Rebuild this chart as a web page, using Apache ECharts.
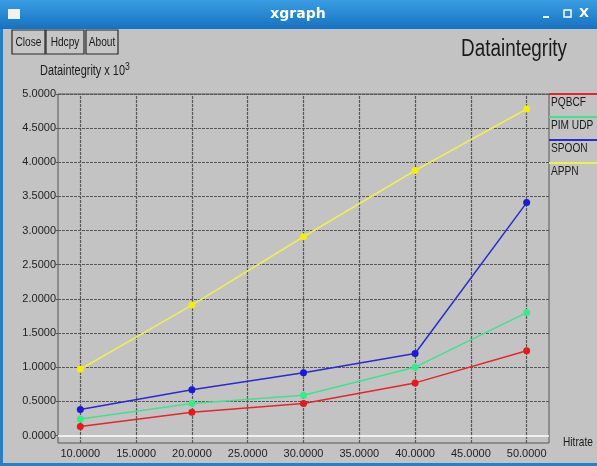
<!DOCTYPE html>
<html>
<head>
<meta charset="utf-8">
<script src="https://cdn.jsdelivr.net/npm/echarts@6/dist/echarts.min.js"></script>
<style>
html,body{margin:0;padding:0;background:#c3c3c3;}
#c{width:597px;height:466px;}
</style>
</head>
<body>
<div id="c"></div>
<script>
// ---- data ----
const hitrate = [10, 20, 30, 40, 50];
const seriesNames = ['PQBCF', 'PIM UDP', 'SPOON', 'APPN'];
const pqbcf  = [0.13, 0.34, 0.47, 0.77, 1.24];
const pimudp = [0.24, 0.47, 0.59, 1.00, 1.80];
const spoon  = [0.38, 0.67, 0.92, 1.20, 3.41];
const appn   = [0.97, 1.91, 2.91, 3.88, 4.78];
const xTicks = [10, 15, 20, 25, 30, 35, 40, 45, 50];
const yTicks = [0, 0.5, 1, 1.5, 2, 2.5, 3, 3.5, 4, 4.5, 5];
const buttonLabels = ['Close', 'Hdcpy', 'About'];

const colors = ['#e4262c', '#3fe38f', '#2a2ad0', '#eeee55'];
const markerColors = ['#e41a1a', '#33ee88', '#1a1ad8', '#f4f000'];
const values = [pqbcf, pimudp, spoon, appn];
const FONT = "'Liberation Sans', Arial, sans-serif";
const SX = 0.78;

const chart = echarts.init(document.getElementById('c'), null, {renderer: 'canvas'});

const gridStyle = {color: '#575757', width: 1.2, type: [3, 1]};
const gridLines = [];
xTicks.forEach(v => gridLines.push({xAxis: v, lineStyle: gridStyle}));
yTicks.forEach(v => {
  if (v === 0) gridLines.push({yAxis: v, lineStyle: {color: '#ffffff', width: 1.5, type: 'solid'}});
  else gridLines.push({yAxis: v, lineStyle: gridStyle});
});

const series = [{
  type: 'line', name: 'grid', data: [], z: 1, silent: true,
  markLine: {z: 1, silent: true, symbol: ['none', 'none'], label: {show: false}, animation: false, data: gridLines}
}];
seriesNames.forEach((n, i) => {
  series.push({
    type: 'line', name: n, z: 3,
    data: hitrate.map((x, j) => [x, values[i][j]]),
    symbol: 'circle', symbolSize: 7, showSymbol: true,
    itemStyle: {color: markerColors[i], borderWidth: 0},
    lineStyle: {color: colors[i], width: 1.5},
    animation: false
  });
});

function txt(x, y, text, size, opts) {
  opts = opts || {};
  return {type: 'text', x: x, y: y, scaleX: opts.sx || SX, z: 12,
    style: Object.assign({text: text, fill: '#1a1a1a', font: size + 'px ' + FONT,
      align: opts.align || 'left', verticalAlign: 'middle'}, opts.style || {})};
}

const graphic = [
  {type: 'rect', shape: {x: 0, y: 0, width: 597, height: 29},
   style: {fill: new echarts.graphic.LinearGradient(0, 0, 0, 1, [{offset: 0, color: '#3a9de2'}, {offset: 1, color: '#1572c0'}])}, z: 10},
  {type: 'rect', shape: {x: 8, y: 9, width: 12, height: 10}, style: {fill: '#f2f2f2'}, z: 11},
  {type: 'text', x: 298, y: 14, z: 11, style: {text: 'xgraph', fill: '#ffffff', font: "bold 14px 'DejaVu Sans', sans-serif", align: 'center', verticalAlign: 'middle'}},
  {type: 'rect', shape: {x: 543, y: 16, width: 6, height: 2}, style: {fill: '#ffffff'}, z: 11},
  {type: 'rect', shape: {x: 564, y: 10, width: 7, height: 7}, style: {fill: 'none', stroke: '#ffffff', lineWidth: 1.5}, z: 11},
  {type: 'text', x: 584, y: 14, z: 11, style: {text: 'X', fill: '#ffffff', font: "bold 13px 'DejaVu Sans', sans-serif", align: 'center', verticalAlign: 'middle'}},
  {type: 'rect', shape: {x: 0, y: 29, width: 3, height: 437}, style: {fill: '#2a7fc4'}, z: 10},
  {type: 'rect', shape: {x: 0, y: 463, width: 597, height: 3}, style: {fill: '#2a7fc4'}, z: 10},
  {type: 'text', x: 567, y: 50, scaleX: 0.82, z: 12,
   style: {text: 'Dataintegrity', fill: '#1a1a1a', font: "23px " + FONT, align: 'right', verticalAlign: 'middle'}},
  {type: 'text', x: 40, y: 71, scaleX: SX, z: 12,
   style: {text: 'Dataintegrity x 10{s|3}', fill: '#1a1a1a', font: "14px " + FONT, verticalAlign: 'middle',
    rich: {s: {fontSize: 11, fontFamily: FONT, fill: '#1a1a1a', verticalAlign: 'top', padding: [0, 0, 8, 0]}}}},
  txt(563, 442, 'Hitrate', 13)
];
const btnX = [12, 46, 86];
const btnW = [33, 38, 32];
buttonLabels.forEach((b, i) => {
  graphic.push({type: 'rect', shape: {x: btnX[i], y: 30, width: btnW[i], height: 24},
    style: {fill: '#c6c6c6', stroke: '#2a2a2a', lineWidth: 1.2}, z: 11});
  graphic.push(txt(btnX[i] + btnW[i] / 2, 42, b, 13, {align: 'center'}));
});
seriesNames.forEach((n, i) => {
  const y = 94 + i * 23;
  graphic.push({type: 'line', shape: {x1: 549, y1: y, x2: 597, y2: y}, style: {stroke: colors[i], lineWidth: 2}, z: 11});
  graphic.push(txt(551, y + 8, n, 13));
});

chart.setOption({
  backgroundColor: '#c3c3c3',
  animation: false,
  grid: {left: 58, top: 94, width: 491, height: 349, containLabel: false, outerBoundsMode: 'none',
    show: true, borderColor: '#575757', borderWidth: 1, backgroundColor: 'transparent'},
  xAxis: {
    type: 'value', min: 8, max: 52,
    axisLine: {show: false},
    splitLine: {show: false},
    axisTick: {show: true, customValues: xTicks, length: 3, lineStyle: {color: '#575757'}},
    axisLabel: {customValues: xTicks, formatter: v => v.toFixed(4), color: '#222', fontFamily: FONT, fontSize: 11, margin: 5}
  },
  yAxis: {
    type: 'value', min: -0.11, max: 5,
    axisLine: {show: false},
    splitLine: {show: false},
    axisTick: {show: true, customValues: yTicks, length: 2, lineStyle: {color: '#575757'}},
    axisLabel: {customValues: yTicks, formatter: v => v.toFixed(4), color: '#222', fontFamily: FONT, fontSize: 11, margin: 2}
  },
  graphic: graphic,
  series: series
});
</script>
</body>
</html>
